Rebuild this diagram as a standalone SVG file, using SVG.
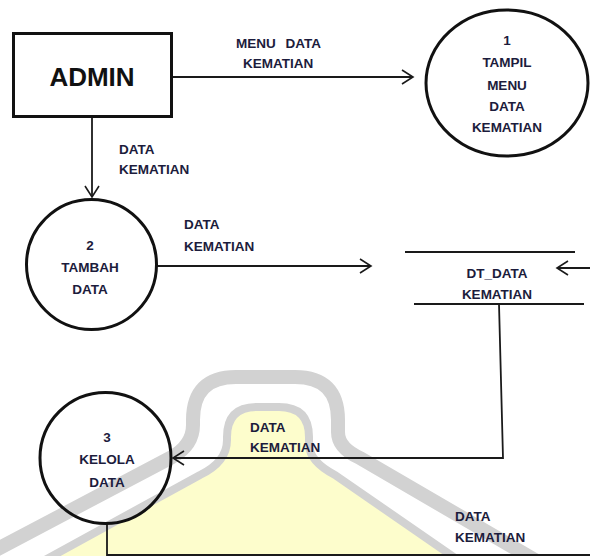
<svg xmlns="http://www.w3.org/2000/svg" width="590" height="556" viewBox="0 0 590 556">
<style>
.lbl{font-family:"Liberation Sans",Arial,sans-serif;font-size:13.5px;font-weight:bold;fill:#1c1c3c}
.ctr{text-anchor:middle}
.node{fill:none;stroke:#111;stroke-width:3}
.flow{fill:none;stroke:#1a1a1a;stroke-width:1.8}
.store{stroke:#1a1a1a;stroke-width:2.2}
.wm{fill:none;stroke:#d2d2d2;stroke-linejoin:round}
</style>
<defs>
<marker id="arr" markerUnits="userSpaceOnUse" markerWidth="14" markerHeight="16" refX="11" refY="7" orient="auto" overflow="visible">
<path d="M0,0 L11,7 L0,14" fill="none" stroke="#1a1a1a" stroke-width="1.6"/>
</marker>
</defs>
<rect width="590" height="556" fill="#fff"/>
<g id="watermark">
<path d="M45,560 L200,475 Q227,462 227,440 L227,437 Q227,407 257,407 L279,407 Q309,407 309,437 L309,445 Q310,462 335,475 L458,560 Z" fill="#fdfdcc"/>
<path class="wm" stroke-width="8" d="M45,560 L200,475 Q227,462 227,440 L227,437 Q227,407 257,407 L279,407 Q309,407 309,437 L309,445 Q310,462 335,475 L458,560"/>
<path class="wm" stroke-width="14" d="M-10,553 L172,457 Q193,445 193,425 L193,420 Q193,377 236,377 L295,377 Q338,377 338,420 L338,432 Q338,448 360,458 L535,560"/>
</g>
<g id="connectors">
<line class="flow" x1="172" y1="77" x2="413" y2="77" marker-end="url(#arr)"/>
<line class="flow" x1="92" y1="117" x2="92" y2="197" marker-end="url(#arr)"/>
<line class="flow" x1="157" y1="266" x2="371" y2="266" marker-end="url(#arr)"/>
<line class="flow" x1="590" y1="268" x2="557" y2="268" marker-end="url(#arr)"/>
<polyline class="flow" points="499,304 503,458 173,458" marker-end="url(#arr)"/>
<polyline class="flow" points="107,524 107,555 592,555"/>
<text class="lbl" x="236" y="48" word-spacing="6">MENU DATA</text>
<text class="lbl" x="243" y="68">KEMATIAN</text>
<text class="lbl" x="119" y="154">DATA</text>
<text class="lbl" x="119" y="174">KEMATIAN</text>
<text class="lbl" x="184" y="229">DATA</text>
<text class="lbl" x="184" y="251">KEMATIAN</text>
<text class="lbl" x="250" y="432">DATA</text>
<text class="lbl" x="250" y="452">KEMATIAN</text>
<text class="lbl" x="455" y="521">DATA</text>
<text class="lbl" x="455" y="542">KEMATIAN</text>
</g>
<g id="admin">
<rect x="13.5" y="33.5" width="158" height="83" fill="none" stroke="#111" stroke-width="3"/>
<text x="92" y="86" text-anchor="middle" font-family="'Liberation Sans',Arial,sans-serif" font-size="26" font-weight="bold" fill="#111">ADMIN</text>
</g>
<g id="p1">
<ellipse class="node" cx="507" cy="83" rx="81" ry="73"/>
<text class="lbl ctr" x="507" y="45">1</text>
<text class="lbl ctr" x="507" y="67">TAMPIL</text>
<text class="lbl ctr" x="507" y="90">MENU</text>
<text class="lbl ctr" x="507" y="111">DATA</text>
<text class="lbl ctr" x="507" y="132">KEMATIAN</text>
</g>
<g id="p2">
<circle class="node" cx="91.5" cy="264.5" r="65"/>
<text class="lbl ctr" x="90" y="250">2</text>
<text class="lbl ctr" x="90" y="272">TAMBAH</text>
<text class="lbl ctr" x="90" y="294">DATA</text>
</g>
<g id="store">
<line class="store" x1="405" y1="252" x2="575" y2="252"/>
<line class="store" x1="414" y1="304" x2="584" y2="304"/>
<text class="lbl ctr" x="497" y="278">DT_DATA</text>
<text class="lbl ctr" x="497" y="299">KEMATIAN</text>
</g>
<g id="p3">
<circle class="node" cx="105.5" cy="458" r="65.5"/>
<text class="lbl ctr" x="107" y="442">3</text>
<text class="lbl ctr" x="107" y="464">KELOLA</text>
<text class="lbl ctr" x="107" y="487">DATA</text>
</g>
</svg>
